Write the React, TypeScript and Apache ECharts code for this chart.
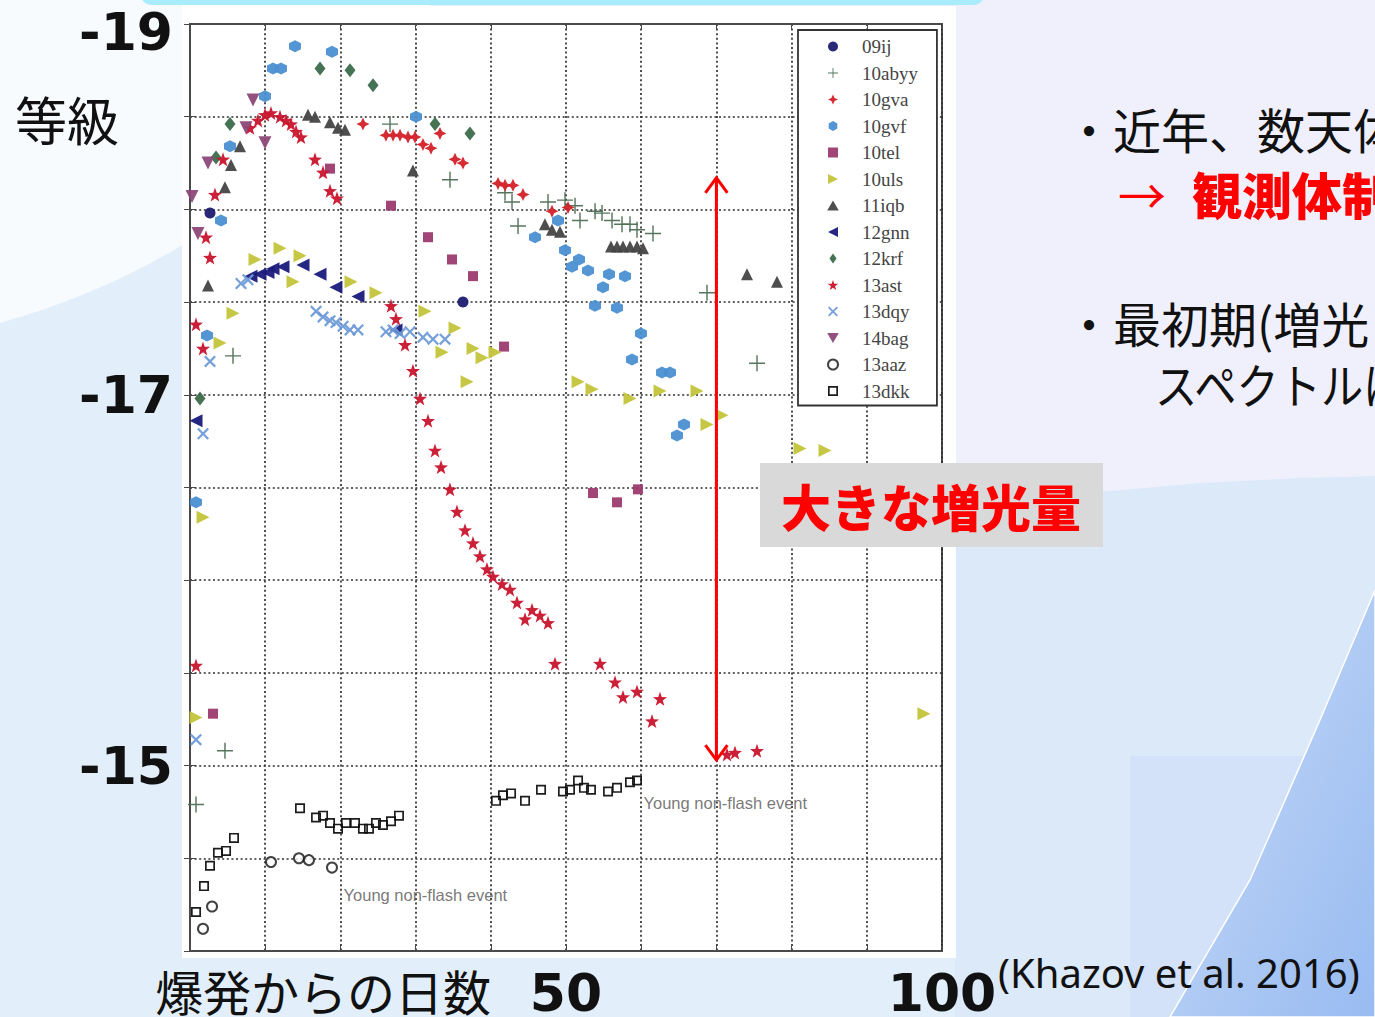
import React, { useEffect, useRef } from "react";
import * as echarts from "echarts";

// Light curves: [days since explosion, absolute magnitude]
const lc09ij = [[2.66, -17.98], [36.3, -17.5]];
const lc10abyy = [
  [0.8, -14.79], [4.65, -15.08], [5.72, -17.21], [26.6, -18.46], [34.57, -18.16],
  [41.89, -18.09], [42.82, -18.04], [43.62, -17.91], [47.61, -18.04], [49.87, -18.05],
  [51.2, -18.02], [51.86, -17.94], [53.86, -17.99], [54.79, -17.98], [56.12, -17.94],
  [57.45, -17.92], [58.51, -17.92], [59.44, -17.89], [61.57, -17.87], [68.75, -17.55],
  [75.4, -17.17],
];
const lc10gva = [
  [23.0, -18.46], [26.06, -18.4], [27.0, -18.4], [27.93, -18.4], [28.99, -18.39],
  [29.92, -18.39], [30.98, -18.35], [32.05, -18.33], [33.24, -18.41], [35.24, -18.27],
  [36.3, -18.25], [40.96, -18.14], [41.89, -18.13], [42.95, -18.13], [44.28, -18.08],
  [48.14, -17.99], [50.27, -18.01],
];
const lc10gvf = [
  [0.8, -16.42], [2.26, -17.32], [4.12, -17.94], [5.32, -18.34], [9.97, -18.61],
  [11.04, -18.76], [12.1, -18.76], [13.96, -18.88], [18.88, -18.85], [30.05, -18.5],
  [45.88, -17.85], [48.94, -17.94], [49.87, -17.78], [50.8, -17.69], [51.73, -17.73],
  [52.93, -17.67], [54.92, -17.58], [53.86, -17.48], [55.72, -17.65], [56.78, -17.47],
  [57.85, -17.64], [59.97, -17.33], [58.78, -17.19], [62.77, -17.12], [63.83, -17.12],
  [65.69, -16.84], [64.76, -16.78],
];
const lc10tel = [
  [3.06, -15.28], [18.62, -18.22], [26.73, -18.02], [31.65, -17.85], [34.84, -17.73],
  [37.63, -17.64], [41.76, -17.26], [53.59, -16.47], [56.78, -16.42], [59.57, -16.49],
];
const lc10uls = [
  [0.8, -15.26], [1.73, -16.34], [3.99, -17.28], [5.72, -17.44], [8.64, -17.73],
  [11.97, -17.79], [14.63, -17.75], [13.7, -17.61], [21.41, -17.61], [24.73, -17.55],
  [31.25, -17.45], [33.51, -17.23], [35.24, -17.36], [36.84, -17.07], [37.63, -17.25],
  [38.83, -17.2], [40.56, -17.23], [51.6, -17.07], [53.46, -17.03], [58.51, -16.98],
  [62.5, -17.02], [67.42, -17.02], [68.75, -16.84], [70.74, -16.89], [81.12, -16.71],
  [84.44, -16.7], [97.6, -15.28],
];
const lc11iqb = [
  [2.39, -17.59], [4.65, -18.12], [5.45, -18.24], [6.65, -18.34], [15.69, -18.51],
  [16.62, -18.5], [18.62, -18.47], [19.68, -18.44], [20.61, -18.43], [29.65, -18.21],
  [47.2, -17.92], [48.14, -17.89], [49.2, -17.88], [55.98, -17.8], [56.78, -17.8],
  [57.58, -17.8], [58.51, -17.8], [59.44, -17.8], [60.24, -17.79], [74.07, -17.65],
  [78.06, -17.61],
];
const lc12gnn = [
  [0.8, -16.86], [8.11, -17.64], [9.31, -17.65], [10.37, -17.66], [11.04, -17.68],
  [12.37, -17.69], [15.03, -17.7], [17.29, -17.65], [19.41, -17.58], [22.34, -17.53],
  [27.39, -17.35],
];
const lc12krf = [
  [1.33, -16.98], [3.46, -18.28], [5.32, -18.46], [17.29, -18.76], [21.28, -18.75],
  [24.34, -18.67], [32.58, -18.46], [37.23, -18.41],
];
const lc13ast = [
  [0.8, -15.54], [0.8, -17.38], [1.73, -17.25], [2.66, -17.74], [2.13, -17.85],
  [3.32, -18.08], [4.39, -18.27], [7.98, -18.44], [9.04, -18.48], [9.97, -18.51],
  [10.77, -18.52], [11.97, -18.5], [12.77, -18.48], [13.43, -18.46], [14.1, -18.42],
  [14.76, -18.39], [16.62, -18.27], [17.69, -18.2], [18.62, -18.1], [19.55, -18.06],
  [26.73, -17.48], [27.39, -17.41], [28.59, -17.27], [29.65, -17.13], [30.59, -16.98],
  [31.65, -16.86], [32.58, -16.7], [33.38, -16.61], [34.57, -16.49], [35.5, -16.37],
  [36.57, -16.27], [37.63, -16.2], [38.56, -16.13], [39.49, -16.06], [40.29, -16.02],
  [41.49, -15.98], [42.55, -15.95], [43.48, -15.88], [44.55, -15.79], [45.48, -15.84],
  [46.54, -15.81], [47.61, -15.77], [48.54, -15.55], [54.52, -15.55], [56.52, -15.45],
  [57.58, -15.37], [59.44, -15.4], [62.5, -15.36], [61.44, -15.24], [71.41, -15.06],
  [72.47, -15.07], [75.4, -15.08],
];
const lc13dqy = [
  [0.8, -15.14], [1.73, -16.79], [2.66, -17.18], [6.78, -17.6], [7.71, -17.62],
  [16.76, -17.45], [17.69, -17.42], [18.62, -17.4], [19.41, -17.39], [20.35, -17.37],
  [21.28, -17.35], [22.34, -17.35], [26.06, -17.34], [27.0, -17.35], [27.93, -17.33],
  [29.26, -17.34], [30.98, -17.31], [32.31, -17.3], [33.91, -17.3],
];
const lc14bag = [
  [0.27, -18.07], [1.06, -17.87], [2.39, -18.25], [7.45, -18.44], [8.38, -18.59],
  [9.97, -18.36],
];
const lc13aaz = [
  [1.73, -14.12], [2.93, -14.24], [10.77, -14.48], [14.49, -14.5], [15.82, -14.49],
  [18.88, -14.45],
];
const lc13dkk = [
  [0.8, -14.21], [1.86, -14.35], [2.66, -14.46], [3.72, -14.53], [4.79, -14.54],
  [5.85, -14.61], [14.63, -14.77], [16.76, -14.72], [17.69, -14.73], [18.62, -14.69],
  [19.68, -14.66], [20.74, -14.69], [21.94, -14.69], [23.0, -14.66], [23.8, -14.66],
  [24.73, -14.69], [25.66, -14.68], [26.73, -14.7], [27.79, -14.73], [40.69, -14.81],
  [41.62, -14.84], [42.69, -14.85], [44.55, -14.81], [46.68, -14.87], [49.6, -14.86],
  [50.53, -14.87], [51.6, -14.92], [52.39, -14.88], [53.32, -14.87], [55.59, -14.86],
  [56.78, -14.88], [58.51, -14.91], [59.44, -14.92],
];

// Axis labels that are printed
const xTickLabels = [50, 100];
const yTickLabels = [-19, -17, -15];

// Double arrow marking the brightening amplitude: [day, bright end, faint end]
const arrowSpan = [[70, -18.17, -15.03]];

// Text notes placed in data space: [day, magnitude, text]
const notes = [
  [20.35, -14.3, "Young non-flash event"],
  [60.24, -14.8, "Young non-flash event"],
];

const STAR5 =
  "path://M0,-10L2.35,-3.24L9.51,-3.09L3.8,1.24L5.88,8.09L0,4L-5.88,8.09L-3.8,1.24L-9.51,-3.09L-2.35,-3.24Z";
const STAR4 = "path://M0,-10L3.2,-3.2L10,0L3.2,3.2L0,10L-3.2,3.2L-10,0L-3.2,-3.2Z";
const HEX = "path://M0,-10L8.66,-5L8.66,5L0,10L-8.66,5L-8.66,-5Z";
const PLUS =
  "path://M-0.9,-10L0.9,-10L0.9,-0.9L10,-0.9L10,0.9L0.9,0.9L0.9,10L-0.9,10L-0.9,0.9L-10,0.9L-10,-0.9L-0.9,-0.9Z";
const XMARK =
  "path://M6.01,-8.13L8.13,-6.01L2.12,0L8.13,6.01L6.01,8.13L0,2.12L-6.01,8.13L-8.13,6.01L-2.12,0L-8.13,-6.01L-6.01,-8.13L0,-2.12Z";
const TRI_U = "path://M5,0L10,8.66L0,8.66Z";
const TRI_R = "path://M0,0L10,5L0,10Z";
const TRI_L = "path://M10,0L0,5L10,10Z";
const TRI_D = "path://M0,0L10,0L5,8.66Z";
const SQUARE = "path://M0,0L10,0L10,10L0,10Z";
const DIAMOND = "path://M0,-7L5,0L0,7L-5,0Z";
const OPEN_SQ = "path://M0,0L10,0L10,10L0,10Z M1.7,1.7L1.7,8.3L8.3,8.3L8.3,1.7Z";

const objects = [
  { name: "09ij", data: lc09ij, symbol: "circle", size: 11, color: "#1c1c70" },
  { name: "10abyy", data: lc10abyy, symbol: PLUS, size: 16, color: "#4e6e55" },
  { name: "10gva", data: lc10gva, symbol: STAR4, size: 13, color: "#d42028" },
  { name: "10gvf", data: lc10gvf, symbol: HEX, size: 12, color: "#4b8fd2" },
  { name: "10tel", data: lc10tel, symbol: SQUARE, size: 10, color: "#9b3b6f" },
  { name: "10uls", data: lc10uls, symbol: TRI_R, size: 13, color: "#c4c43c" },
  { name: "11iqb", data: lc11iqb, symbol: TRI_U, size: 12, color: "#444444" },
  { name: "12gnn", data: lc12gnn, symbol: TRI_L, size: 13, color: "#1a1a7c" },
  { name: "12krf", data: lc12krf, symbol: DIAMOND, size: [11, 14], color: "#3d6b4c" },
  { name: "13ast", data: lc13ast, symbol: STAR5, size: 14, color: "#c8142c" },
  { name: "13dqy", data: lc13dqy, symbol: XMARK, size: 12, color: "#6f9bd8" },
  { name: "14bag", data: lc14bag, symbol: TRI_D, size: 13, color: "#8c4877" },
  { name: "13aaz", data: lc13aaz, symbol: "emptyCircle", size: 10, color: "#111111" },
  { name: "13dkk", data: lc13dkk, symbol: OPEN_SQ, size: 10, color: "#111111" },
];

const JP = "'Noto Sans CJK JP', 'Noto Sans', sans-serif";
const BOLD_NUM = "'DejaVu Sans', Verdana, sans-serif";

const gridLine = { color: "#2e2e2e", width: 1.7, type: [2, 2.6] as number[] };
const frame = { color: "#4a4a4a", width: 2 };

export default function App() {
  const ref = useRef<HTMLDivElement>(null);

  useEffect(() => {
    if (!ref.current) return;
    const chart = echarts.init(ref.current, undefined, { renderer: "svg" });

    const scatterSeries = objects.map((o) => ({
      name: o.name,
      type: "scatter",
      data: o.data,
      symbol: o.symbol,
      symbolSize: o.size,
      itemStyle: o.symbol.startsWith("empty")
        ? { color: o.color, borderColor: o.color, borderWidth: 1.6 }
        : { color: o.color, opacity: 0.95 },
      z: 3,
    }));

    const numRich = {
      n: { fontSize: 52, fontWeight: "bold", fontFamily: BOLD_NUM, color: "#111" },
      lo: {
        fontSize: 52,
        fontWeight: "bold",
        fontFamily: BOLD_NUM,
        color: "#111",
        padding: [16, 0, 0, 0],
      },
    };

    chart.setOption({
      animation: false,
      backgroundColor: "#e2effa",
      grid: {
        left: 190,
        top: 24,
        width: 752,
        height: 927,
        show: true,
        borderColor: "#4a4a4a",
        borderWidth: 2,
        containLabel: false,
        outerBoundsMode: "none",
      },
      xAxis: [
        {
          type: "value",
          min: 0,
          max: 100,
          interval: 10,
          axisLine: { show: true, lineStyle: frame },
          axisTick: { show: true, inside: true, length: 6, lineStyle: { color: "#4a4a4a" } },
          splitLine: { show: true, lineStyle: gridLine },
          axisLabel: {
            margin: 22,
            fontSize: 52,
            lineHeight: 40,
            fontWeight: "bold",
            fontFamily: BOLD_NUM,
            color: "#111",
            formatter: (v: number) => (xTickLabels.includes(v) ? String(v) : ""),
          },
        },
        {
          type: "value",
          position: "top",
          min: 0,
          max: 100,
          interval: 10,
          axisLine: { show: true, lineStyle: frame },
          axisTick: { show: true, inside: true, length: 6, lineStyle: { color: "#4a4a4a" } },
          splitLine: { show: false },
          axisLabel: { show: false },
        },
      ],
      yAxis: [
        {
          type: "value",
          inverse: true,
          min: -19,
          max: -14,
          interval: 0.5,
          axisLine: { show: true, lineStyle: frame },
          axisTick: { show: true, inside: true, length: 6, lineStyle: { color: "#4a4a4a" } },
          splitLine: { show: true, lineStyle: gridLine },
          axisLabel: {
            margin: 17,
            rich: numRich,
            formatter: (v: number) => {
              if (!yTickLabels.includes(v)) return "";
              return v === yTickLabels[0] ? `{lo|${v}}` : `{n|${v}}`;
            },
          },
        },
        {
          type: "value",
          position: "right",
          inverse: true,
          min: -19,
          max: -14,
          interval: 0.5,
          axisLine: { show: true, lineStyle: frame },
          axisTick: { show: true, inside: true, length: 6, lineStyle: { color: "#4a4a4a" } },
          splitLine: { show: false },
          axisLabel: { show: false },
        },
      ],
      legend: {
        orient: "vertical",
        left: 798,
        top: 30,
        padding: [7, 19, 5, 29],
        itemWidth: 48,
        itemHeight: 10,
        itemGap: 7.5,
        selectedMode: false,
        backgroundColor: "#ffffff",
        borderColor: "#333333",
        borderWidth: 1.8,
        textStyle: { fontFamily: "'Liberation Serif', serif", fontSize: 19, color: "#444" },
        data: objects.map((o) => o.name),
        z: 6,
      },
      series: [
        ...scatterSeries,
        {
          type: "scatter",
          name: "notes",
          data: notes.map((n) => ({ value: [n[0], n[1]], label: { formatter: String(n[2]) } })),
          symbolSize: 1,
          itemStyle: { color: "rgba(0,0,0,0)" },
          label: {
            show: true,
            position: "right",
            distance: 0,
            fontFamily: "'Liberation Sans', Arial, sans-serif",
            fontSize: 16.5,
            color: "#555",
          },
          z: 2,
        },
        {
          type: "custom",
          name: "amplitude",
          data: arrowSpan,
          encode: { x: 0, y: [1, 2] },
          clip: false,
          z: 8,
          renderItem: (_params: any, api: any) => {
            const top = api.coord([api.value(0), api.value(1)]);
            const bot = api.coord([api.value(0), api.value(2)]);
            const dx = 11;
            const dy = 15;
            const style = { stroke: "#ff0000", lineWidth: 3, fill: "none" };
            return {
              type: "group",
              children: [
                { type: "line", shape: { x1: top[0], y1: top[1], x2: bot[0], y2: bot[1] }, style },
                {
                  type: "polyline",
                  shape: { points: [[top[0] - dx, top[1] + dy], [top[0], top[1]], [top[0] + dx, top[1] + dy]] },
                  style,
                },
                {
                  type: "polyline",
                  shape: { points: [[bot[0] - dx, bot[1] - dy], [bot[0], bot[1]], [bot[0] + dx, bot[1] - dy]] },
                  style,
                },
              ],
            };
          },
        },
      ],
      graphic: [
        // slide backdrop
        { type: "circle", z: -100, shape: { cx: -200, cy: -400, r: 750 }, style: { fill: "#f7fbfe" } },
        { type: "rect", z: -99, shape: { x: 955, y: 470, width: 420, height: 547 }, style: { fill: "#dce9f9" } },
        {
          type: "polygon",
          z: -98,
          shape: {
            points: [
              [955, 0], [1375, 0], [1375, 476], [1300, 478], [1200, 483], [1100, 492], [1020, 505], [955, 522],
            ],
          },
          style: { fill: "#f0f0fc" },
        },
        { type: "rect", z: -97, shape: { x: 1130, y: 756, width: 245, height: 261 }, style: { fill: "#d3e2f8" } },
        {
          type: "polygon",
          z: -96,
          shape: { points: [[1375, 590], [1375, 1017], [1170, 1017], [1250, 880], [1320, 720]] },
          style: {
            fill: new echarts.graphic.LinearGradient(0, 0, 1, 1, [
              { offset: 0, color: "#c9dbf7" },
              { offset: 1, color: "#98bbf1" },
            ]),
            stroke: "#ffffff",
            lineWidth: 1.5,
          },
        },
        { type: "rect", z: -95, shape: { x: 140, y: -20, width: 845, height: 25, r: 12 }, style: { fill: "#a9ecfb" } },
        { type: "rect", z: -94, shape: { x: 182, y: 6, width: 774, height: 952 }, style: { fill: "#ffffff" } },
        // axis titles
        {
          type: "text",
          z: 10,
          x: 15,
          y: 118,
          style: { text: "等級", font: `400 52px ${JP}`, fill: "#111", verticalAlign: "middle" },
        },
        {
          type: "text",
          z: 10,
          x: 155,
          y: 990,
          style: {
            text: "爆発からの日数",
            font: `400 48px ${JP}`,
            lineHeight: 44,
            fill: "#111",
            verticalAlign: "middle",
          },
        },
        {
          type: "text",
          z: 10,
          x: 998,
          y: 972,
          style: {
            text: "(Khazov et al. 2016)",
            font: "400 40px 'Noto Sans', sans-serif",
            fill: "#111",
            verticalAlign: "middle",
          },
        },
        // bullet text
        {
          type: "text",
          z: 10,
          x: 1065,
          y: 128,
          style: { text: "・近年、数天体", font: `400 48px ${JP}`, fill: "#111", verticalAlign: "middle" },
        },
        {
          type: "text",
          z: 10,
          x: 1118,
          y: 193,
          style: { text: "→", font: `400 48px ${JP}`, fill: "#ff0000", verticalAlign: "middle" },
        },
        {
          type: "text",
          z: 10,
          x: 1192,
          y: 193,
          style: { text: "観測体制", font: `900 50px ${JP}`, fill: "#ff0000", verticalAlign: "middle" },
        },
        {
          type: "text",
          z: 10,
          x: 1065,
          y: 322,
          style: { text: "・最初期(増光", font: `400 48px ${JP}`, fill: "#111", verticalAlign: "middle" },
        },
        {
          type: "text",
          z: 10,
          x: 1155,
          y: 383,
          scaleX: 0.88,
          style: { text: "スペクトルは", font: `400 48px ${JP}`, fill: "#111", verticalAlign: "middle" },
        },
        // callout
        {
          type: "group",
          z: 100,
          children: [
            { type: "rect", z: 100, shape: { x: 760, y: 463, width: 343, height: 84 }, style: { fill: "#d9d9d9" } },
            {
              type: "text",
              z: 101,
              x: 931,
              y: 505,
              style: {
                text: "大きな増光量",
                font: `900 50px ${JP}`,
                fill: "#ff0000",
                align: "center",
                verticalAlign: "middle",
              },
            },
          ],
        },
      ],
    });

    return () => chart.dispose();
  }, []);

  return (
    <div
      ref={ref}
      style={{ position: "absolute", left: 0, top: 0, width: 1375, height: 1017 }}
    />
  );
}
